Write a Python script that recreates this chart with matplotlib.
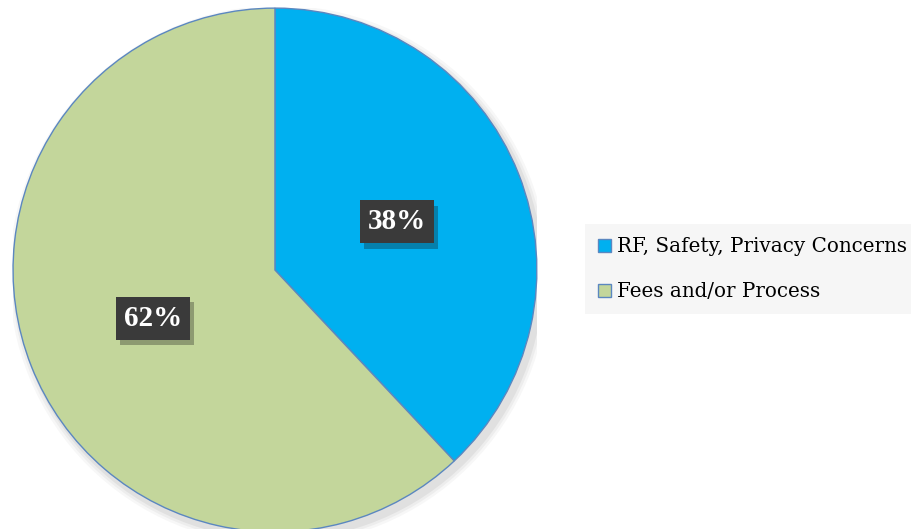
import matplotlib.pyplot as plt
import matplotlib.patheffects as pe
from matplotlib.patches import Circle

labels = ["RF, Safety, Privacy Concerns", "Fees and/or Process"]
values = [38, 62]
colors = ["#00b0f0", "#c3d69b"]

fig = plt.figure(figsize=(9.11, 5.29), dpi=100)
ax = fig.add_axes([0.0143, -0.0057, 0.575, 0.9905])

# soft shadow under the pie
for r, a in [(1.03, 0.03), (1.02, 0.04), (1.01, 0.05)]:
    ax.add_patch(Circle((0.015, -0.02), r, facecolor="black", edgecolor="none", alpha=a, zorder=0))

wedges, texts, autotexts = ax.pie(
    values, colors=colors, startangle=90, counterclock=False,
    autopct="%d%%", pctdistance=0.5,
    wedgeprops=dict(edgecolor="#5b87c0", linewidth=1.0, zorder=1),
    textprops=dict(color="white", fontsize=21, fontweight="bold", family="Liberation Serif"),
)
for t in autotexts:
    t.set_bbox(dict(boxstyle="square,pad=0.27", facecolor="#3a3a3a", edgecolor="none"))
    t.get_bbox_patch().set_path_effects([pe.SimplePatchShadow(offset=(3, -4), alpha=0.3), pe.Normal()])
ax.set_xlim(-1, 1)
ax.set_ylim(-1, 1)
ax.set_aspect("equal")
ax.axis("off")

leg = fig.legend(wedges, labels, loc="center left", bbox_to_anchor=(0.642, 0.491),
                 frameon=True, fancybox=False, handlelength=0.65, handleheight=0.65,
                 handletextpad=0.3, labelspacing=1.3, borderpad=0.65, borderaxespad=0,
                 prop=dict(family="DejaVu Serif", size=14.3))
leg.get_frame().set_facecolor("#f4f4f4")
leg.get_frame().set_edgecolor("none")

fig.savefig("out.png", dpi=100)
